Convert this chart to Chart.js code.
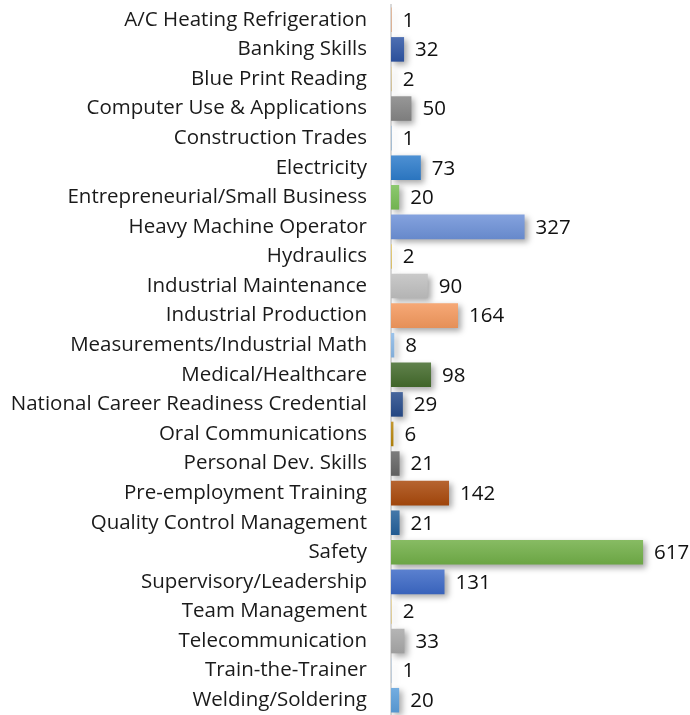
<!DOCTYPE html>
<html>
<head>
<meta charset="utf-8">
<script src="https://cdn.jsdelivr.net/npm/chart.js@4"></script>
<style>
  html, body { margin: 0; padding: 0; background: #fff; }
  #wrap { width: 690px; height: 715px; position: relative; }
</style>
</head>
<body>
<div id="wrap"><canvas id="myChart"></canvas></div>
<script>
var Labels = ['A/C Heating Refrigeration', 'Banking Skills', 'Blue Print Reading',
  'Computer Use & Applications', 'Construction Trades', 'Electricity',
  'Entrepreneurial/Small Business', 'Heavy Machine Operator', 'Hydraulics',
  'Industrial Maintenance', 'Industrial Production', 'Measurements/Industrial Math',
  'Medical/Healthcare', 'National Career Readiness Credential', 'Oral Communications',
  'Personal Dev. Skills', 'Pre-employment Training', 'Quality Control Management',
  'Safety', 'Supervisory/Leadership', 'Team Management', 'Telecommunication',
  'Train-the-Trainer', 'Welding/Soldering'];
var Counts = [1, 32, 2, 50, 1, 73, 20, 327, 2, 90, 164, 8, 98, 29, 6, 21, 142, 21, 617, 131, 2, 33, 1, 20];
var BarColors = ['#ED7D31', '#2F55A4', '#D9C48F', '#858585', '#5B9BD5', '#2E7CCB',
  '#78BE55', '#6E92D8', '#E6C350', '#BFBFBF', '#F4995E', '#8AB8E6',
  '#446B2C', '#274B8A', '#B8860B', '#666666', '#A9490C', '#24609A',
  '#72AF48', '#3D69C7', '#E8CF88', '#A8A8A8', '#9DC3E6', '#5C9FDB'];

var FontFamily = '"Open Sans", Lato, sans-serif';
var FontSize = 20.5;

// mix a hex colour with white (amt > 0) or black (amt < 0)
function shade(hex, amt) {
  var n = parseInt(hex.slice(1), 16);
  var r = n >> 16, g = (n >> 8) & 255, b = n & 255;
  var t = amt > 0 ? 255 : 0, a = Math.abs(amt);
  r = Math.round(r + (t - r) * a);
  g = Math.round(g + (t - g) * a);
  b = Math.round(b + (t - b) * a);
  return 'rgb(' + r + ',' + g + ',' + b + ')';
}

function barGradient(context) {
  var chart = context.chart;
  var base = BarColors[context.dataIndex];
  var yScale = chart.scales.y;
  if (!chart.chartArea || !yScale || context.dataIndex === undefined) return base;
  var y = yScale.getPixelForValue(context.dataIndex);
  var g = chart.ctx.createLinearGradient(0, y - 12, 0, y + 12);
  g.addColorStop(0, shade(base, 0.15));
  g.addColorStop(1, shade(base, -0.06));
  return g;
}

var shadowPlugin = {
  id: 'shadow',
  beforeDatasetDraw: function(chart) {
    var c = chart.ctx;
    c.save();
    c.shadowColor = 'rgba(0,0,0,0.35)';
    c.shadowBlur = 6;
    c.shadowOffsetX = 3;
    c.shadowOffsetY = 3;
  },
  afterDatasetDraw: function(chart) {
    chart.ctx.restore();
  }
};

var valueLabels = {
  id: 'valueLabels',
  afterDatasetsDraw: function(chart) {
    var c = chart.ctx;
    var meta = chart.getDatasetMeta(0);
    c.save();
    c.font = FontSize + 'px ' + FontFamily;
    c.fillStyle = '#111';
    c.textAlign = 'left';
    c.textBaseline = 'middle';
    meta.data.forEach(function(bar, i) {
      c.fillText(Counts[i], bar.x + 11, bar.y + 1);
    });
    c.restore();
  }
};

var ctx = document.getElementById('myChart');
new Chart(ctx, {
  type: 'bar',
  data: {
    labels: Labels,
    datasets: [{
      data: Counts,
      backgroundColor: barGradient,
      borderWidth: 0,
      categoryPercentage: 1,
      barPercentage: 0.83
    }]
  },
  options: {
    indexAxis: 'y',
    responsive: true,
    maintainAspectRatio: false,
    animation: false,
    layout: { padding: { top: 5, right: 13, bottom: 0, left: 0 } },
    plugins: {
      legend: { display: false },
      tooltip: { enabled: false }
    },
    scales: {
      x: {
        display: false,
        min: 0,
        max: 700
      },
      y: {
        afterFit: function(scale) {
          scale.width = 391;
          scale.paddingTop = 0;
          scale.paddingBottom = 0;
        },
        grid: { display: true, drawOnChartArea: false, drawTicks: true, tickLength: 24, color: 'rgba(0,0,0,0)' },
        border: { display: true, color: '#d9d9d9', width: 2 },
        ticks: {
          padding: 0,
          color: '#1a1a1a',
          font: { size: FontSize, family: FontFamily }
        }
      }
    }
  },
  plugins: [shadowPlugin, valueLabels]
});
</script>
</body>
</html>
